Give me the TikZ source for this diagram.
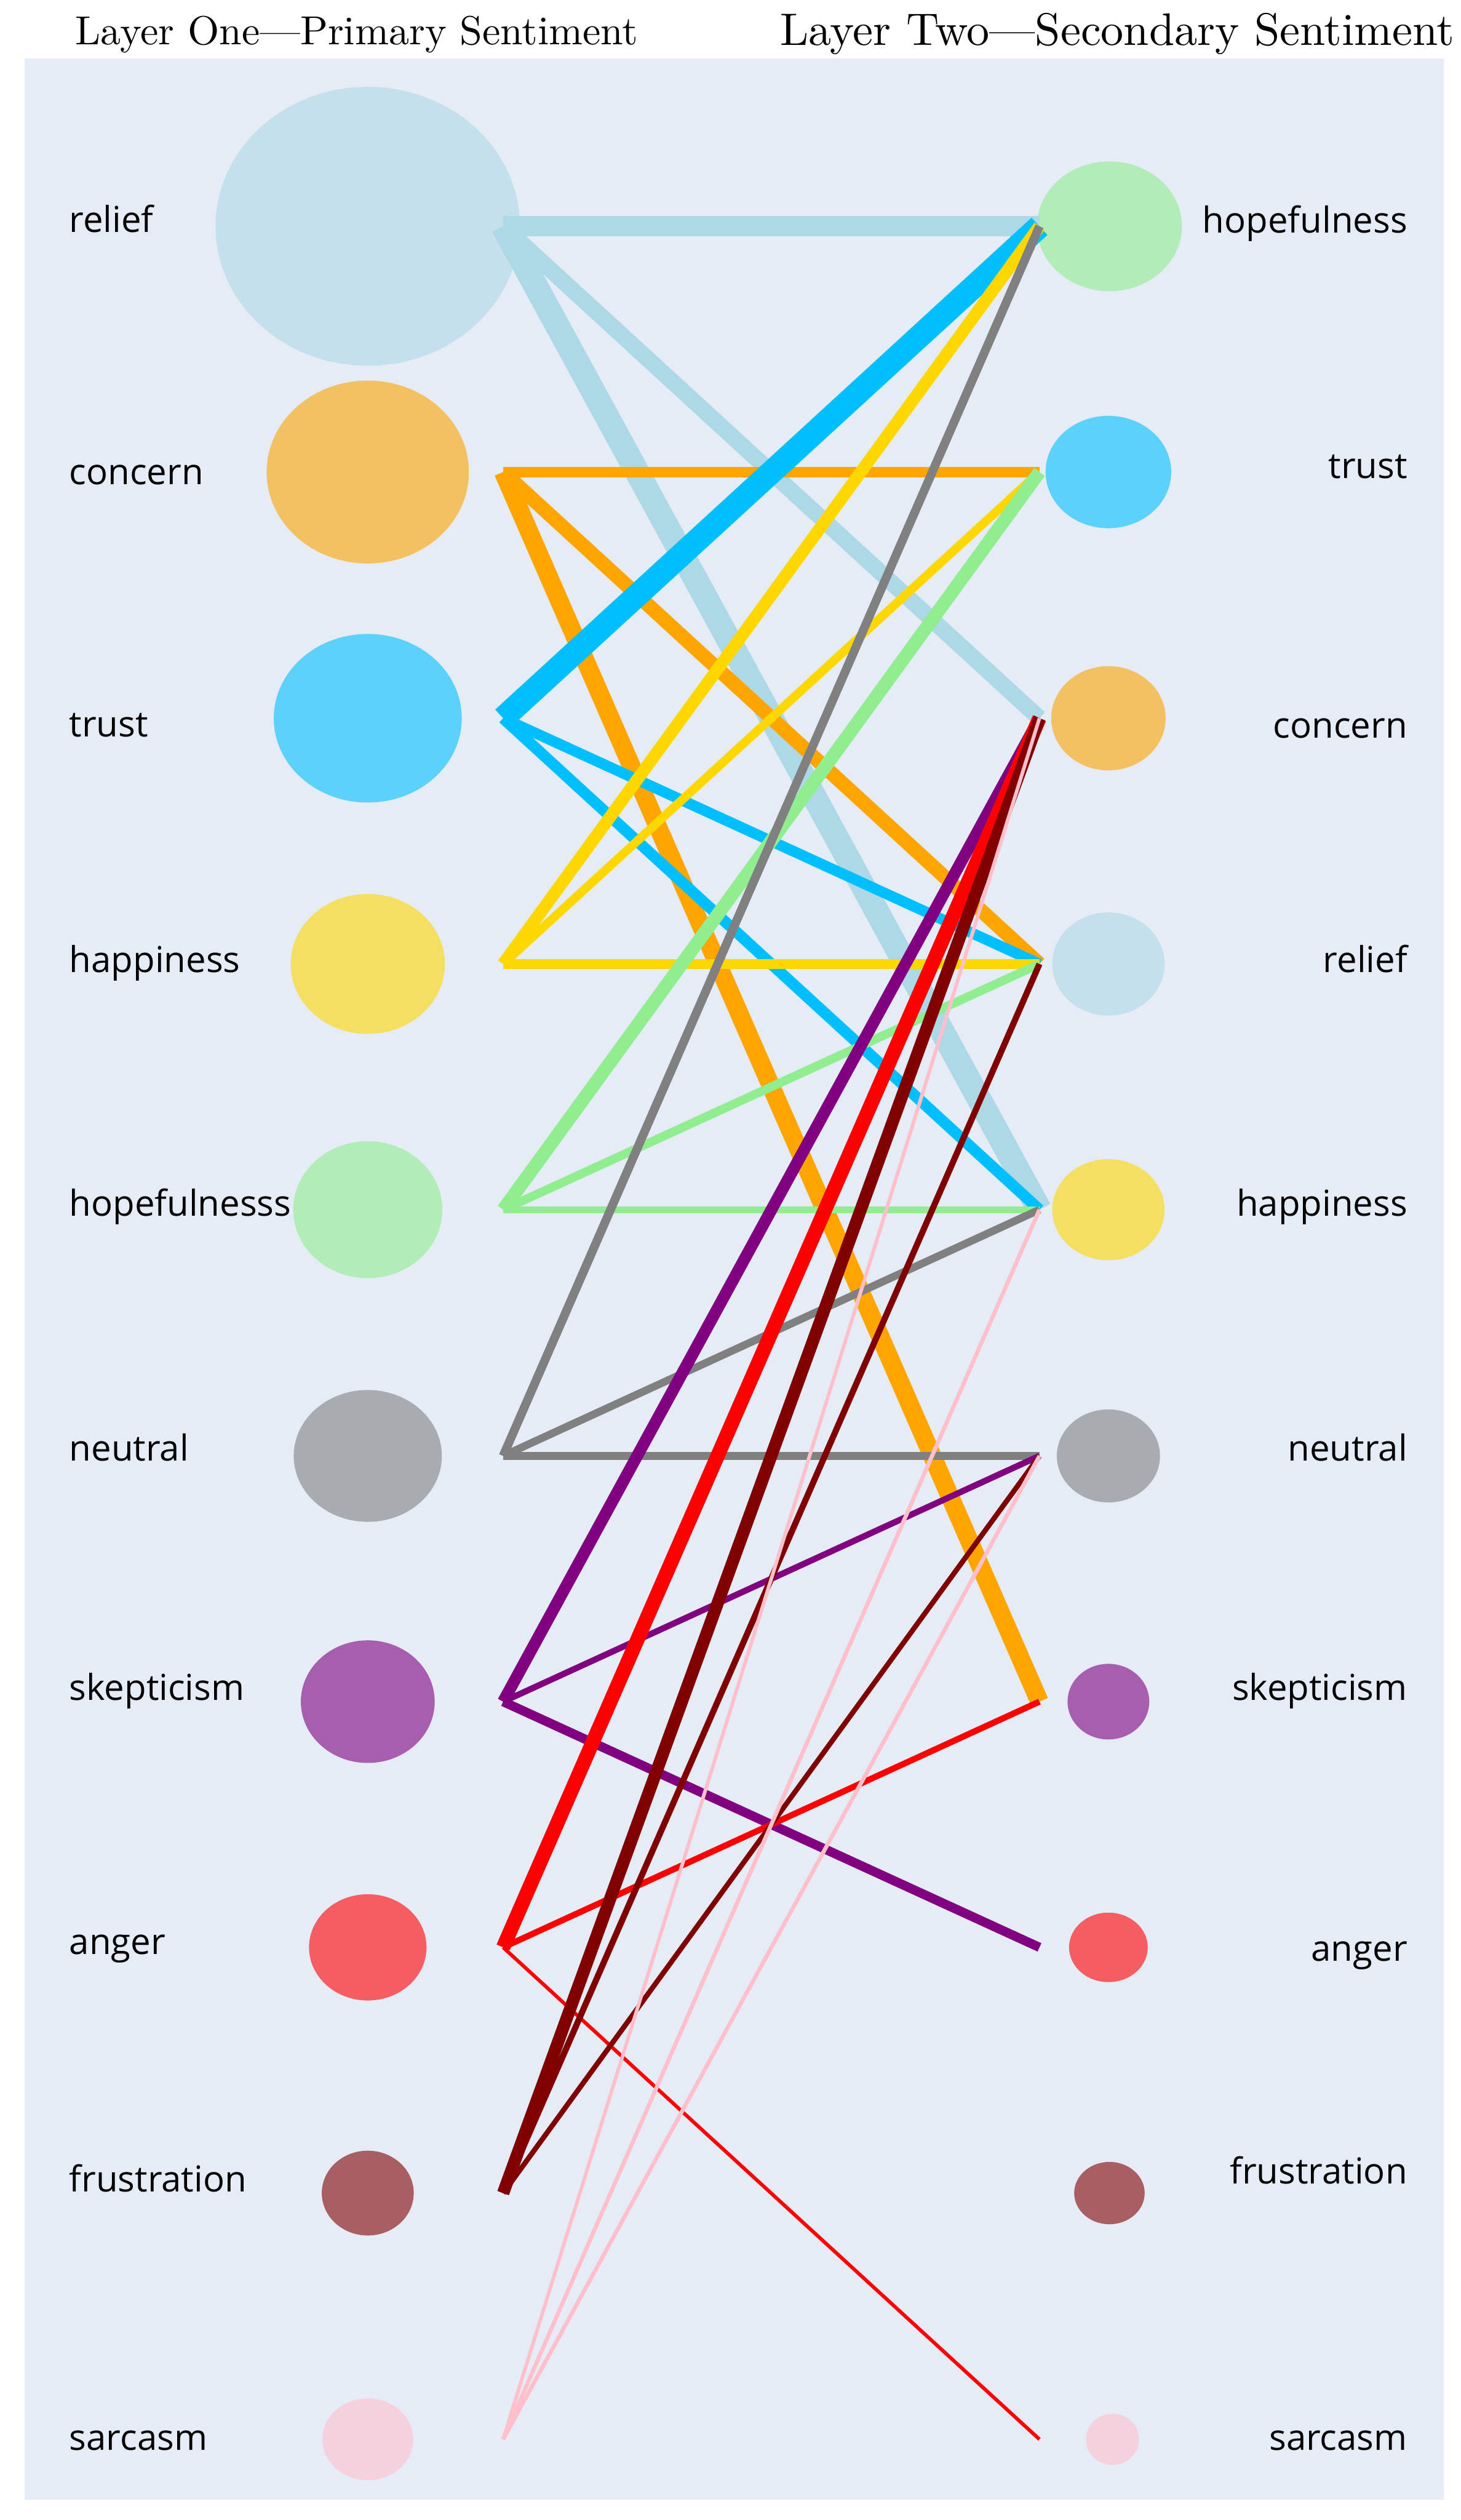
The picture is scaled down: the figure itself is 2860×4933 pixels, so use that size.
\documentclass[tikz,border=0pt]{standalone}
\usepackage{fontspec}
\newfontfamily\labfont{Open Sans}
\newfontfamily\titlefont[Extension=.otf]{lmroman10-regular}
\usetikzlibrary{shapes.geometric}
\definecolor{bg}{HTML}{E5ECF6}
\definecolor{cRelief}{HTML}{ADD8E6}
\definecolor{cConcern}{HTML}{FFA500}
\definecolor{cTrust}{HTML}{00BFFF}
\definecolor{cHappy}{HTML}{FFD700}
\definecolor{cHope}{HTML}{90EE90}
\definecolor{cNeutral}{HTML}{808080}
\definecolor{cSkep}{HTML}{800080}
\definecolor{cAnger}{HTML}{FF0000}
\definecolor{cFrust}{HTML}{800000}
\definecolor{cSarc}{HTML}{FFC0CB}
\begin{document}
\begin{tikzpicture}[x=0.25pt,y=-0.25pt,
  blob/.style={ellipse, inner sep=0pt, draw=none, fill opacity=0.6},
  lab/.style={font=\labfont\fontsize{17.5}{20}\selectfont, inner sep=0pt, text=black},
  lnk/.style={line cap=butt}]
\useasboundingbox (0,0) rectangle (2860,4933);
\fill[white] (0,0) rectangle (2860,4933);
\fill[bg] (48,115) rectangle (2827,4893);
% titles
\node[anchor=base west, inner sep=0pt] (title1) at (147,87) {\titlefont\fontsize{19.85}{24}\selectfont Layer One—Primary Sentiment};
\node[anchor=base east, inner sep=0pt] (title2) at (2848,88) {\titlefont\fontsize{22.3}{26}\selectfont Layer Two—Secondary Sentiment};
% left blobs
\node[blob, fill=cRelief,  minimum width=149pt,  minimum height=136.5pt] (L-relief) at (720,443) {};
\node[blob, fill=cConcern, minimum width=99pt,   minimum height=89.5pt]  (L-concern) at (720,924) {};
\node[blob, fill=cTrust,   minimum width=92pt,   minimum height=82.5pt]  (L-trust) at (720,1406) {};
\node[blob, fill=cHappy,   minimum width=75.5pt, minimum height=68.5pt]  (L-happy) at (720,1887) {};
\node[blob, fill=cHope,    minimum width=73pt,   minimum height=67pt]    (L-hope) at (720,2368) {};
\node[blob, fill=cNeutral, minimum width=72.5pt, minimum height=64.5pt]  (L-neutral) at (720,2850) {};
\node[blob, fill=cSkep,    minimum width=65.5pt, minimum height=60pt]    (L-skep) at (720,3331) {};
\node[blob, fill=cAnger,   minimum width=57.5pt, minimum height=52pt]    (L-anger) at (720,3812) {};
\node[blob, fill=cFrust,   minimum width=45pt,   minimum height=41.5pt]  (L-frust) at (720,4293) {};
\node[blob, fill=cSarc,    minimum width=44.5pt, minimum height=40pt]    (L-sarc) at (720,4775) {};
% right blobs
\node[blob, fill=cHope,    minimum width=71pt,   minimum height=63.5pt]  (R-hope) at (2172,443) {};
\node[blob, fill=cTrust,   minimum width=61.5pt, minimum height=55pt]    (R-trust) at (2170,924) {};
\node[blob, fill=cConcern, minimum width=56pt,   minimum height=51pt]    (R-concern) at (2170,1406) {};
\node[blob, fill=cRelief,  minimum width=55pt,   minimum height=50.5pt]  (R-relief) at (2170,1887) {};
\node[blob, fill=cHappy,   minimum width=55pt,   minimum height=49.5pt]  (R-happy) at (2170,2368) {};
\node[blob, fill=cNeutral, minimum width=50.5pt, minimum height=45.5pt]  (R-neutral) at (2170,2850) {};
\node[blob, fill=cSkep,    minimum width=40pt,   minimum height=37pt]    (R-skep) at (2170,3331) {};
\node[blob, fill=cAnger,   minimum width=38.5pt, minimum height=34pt]    (R-anger) at (2170,3812) {};
\node[blob, fill=cFrust,   minimum width=34.5pt, minimum height=30.5pt]  (R-frust) at (2172,4293) {};
\node[blob, fill=cSarc,    minimum width=26pt,   minimum height=25pt]    (R-sarc) at (2178,4775) {};
% edge end points
\coordinate (a-relief) at (985,443);
\coordinate (a-concern) at (985,924);
\coordinate (a-trust) at (985,1406);
\coordinate (a-happy) at (985,1887);
\coordinate (a-hope) at (985,2368);
\coordinate (a-neutral) at (985,2850);
\coordinate (a-skep) at (985,3331);
\coordinate (a-anger) at (985,3812);
\coordinate (a-frust) at (985,4293);
\coordinate (a-sarc) at (985,4775);
\coordinate (b-hope) at (2035,443);
\coordinate (b-trust) at (2035,924);
\coordinate (b-concern) at (2035,1406);
\coordinate (b-relief) at (2035,1887);
\coordinate (b-happy) at (2035,2368);
\coordinate (b-neutral) at (2035,2850);
\coordinate (b-skep) at (2035,3331);
\coordinate (b-anger) at (2035,3812);
\coordinate (b-frust) at (2035,4293);
\coordinate (b-sarc) at (2035,4775);
% edges
\draw[lnk, cRelief, line width=10pt] (a-relief) -- (b-hope);
\draw[lnk, cRelief, line width=8pt] (a-relief) -- (b-concern);
\draw[lnk, cRelief, line width=12pt] (a-relief) -- (b-happy);
\draw[lnk, cConcern, line width=5.25pt] (a-concern) -- (b-trust);
\draw[lnk, cConcern, line width=7pt] (a-concern) -- (b-relief);
\draw[lnk, cConcern, line width=9pt] (a-concern) -- (b-skep);
\draw[lnk, cTrust, line width=11.5pt] (a-trust) -- (b-hope);
\draw[lnk, cTrust, line width=5.25pt] (a-trust) -- (b-relief);
\draw[lnk, cTrust, line width=5.5pt] (a-trust) -- (b-happy);
\draw[lnk, cHappy, line width=6pt] (a-happy) -- (b-hope);
\draw[lnk, cHappy, line width=4.25pt] (a-happy) -- (b-trust);
\draw[lnk, cHappy, line width=5pt] (a-happy) -- (b-relief);
\draw[lnk, cHope, line width=6.5pt] (a-hope) -- (b-trust);
\draw[lnk, cHope, line width=4.25pt] (a-hope) -- (b-relief);
\draw[lnk, cHope, line width=3.25pt] (a-hope) -- (b-happy);
\draw[lnk, cNeutral, line width=4.25pt] (a-neutral) -- (b-hope);
\draw[lnk, cNeutral, line width=3.75pt] (a-neutral) -- (b-happy);
\draw[lnk, cNeutral, line width=3.75pt] (a-neutral) -- (b-neutral);
\draw[lnk, cSkep, line width=5.75pt] (a-skep) -- (b-concern);
\draw[lnk, cSkep, line width=3pt] (a-skep) -- (b-neutral);
\draw[lnk, cSkep, line width=4.5pt] (a-skep) -- (b-anger);
\draw[lnk, cAnger, line width=7pt] (a-anger) -- (b-concern);
\draw[lnk, cAnger, line width=3pt] (a-anger) -- (b-skep);
\draw[lnk, cAnger, line width=1.75pt] (a-anger) -- (b-sarc);
\draw[lnk, cFrust, line width=6pt] (a-frust) -- (b-concern);
\draw[lnk, cFrust, line width=3pt] (a-frust) -- (b-relief);
\draw[lnk, cFrust, line width=2.5pt] (a-frust) -- (b-neutral);
\draw[lnk, cSarc, line width=1.75pt] (a-sarc) -- (b-concern);
\draw[lnk, cSarc, line width=2pt] (a-sarc) -- (b-happy);
\draw[lnk, cSarc, line width=2pt] (a-sarc) -- (b-neutral);
% left labels
\node[lab, anchor=base west] (tl-relief) at (135,455) {relief};
\node[lab, anchor=base west] (tl-concern) at (135,948) {concern};
\node[lab, anchor=base west] (tl-trust) at (135,1442) {trust};
\node[lab, anchor=base west] (tl-happy) at (135,1903) {happiness};
\node[lab, anchor=base west] (tl-hope) at (135,2380) {hopefulnesss};
\node[lab, anchor=base west] (tl-neutral) at (135,2860) {neutral};
\node[lab, anchor=base west] (tl-skep) at (135,3328) {skepticism};
\node[lab, anchor=base west] (tl-anger) at (135,3825) {anger};
\node[lab, anchor=base west] (tl-frust) at (135,4290) {frustration};
\node[lab, anchor=base west] (tl-sarc) at (135,4796) {sarcasm};
% right labels
\node[lab, anchor=base east] (tr-hope) at (2756,456) {hopefulness};
\node[lab, anchor=base east] (tr-trust) at (2756,936) {trust};
\node[lab, anchor=base east] (tr-concern) at (2756,1445) {concern};
\node[lab, anchor=base east] (tr-relief) at (2756,1903) {relief};
\node[lab, anchor=base east] (tr-happy) at (2756,2380) {happiness};
\node[lab, anchor=base east] (tr-neutral) at (2756,2860) {neutral};
\node[lab, anchor=base east] (tr-skep) at (2756,3328) {skepticism};
\node[lab, anchor=base east] (tr-anger) at (2756,3839) {anger};
\node[lab, anchor=base east] (tr-frust) at (2756,4275) {frustration};
\node[lab, anchor=base east] (tr-sarc) at (2756,4796) {sarcasm};
\end{tikzpicture}
\end{document}
